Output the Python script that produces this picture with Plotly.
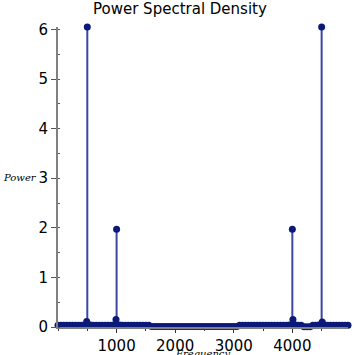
import plotly.graph_objects as go

# Frequency bins (Hz) and power values
freq = [0, 50, 100, 150, 200, 250, 300, 350, 400, 450,
        490, 500, 550, 600, 650, 700, 750, 800, 850, 900,
        950, 990, 1000, 1050, 1100, 1150, 1200, 1250, 1300, 1350,
        1400, 1450, 1500, 1550, 1600, 1650, 1700, 1750, 1800, 1850,
        1900, 1950, 2000, 2050, 2100, 2150, 2200, 2250, 2300, 2350,
        2400, 2450, 2500, 2550, 2600, 2650, 2700, 2750, 2800, 2850,
        2900, 2950, 3000, 3050, 3100, 3150, 3200, 3250, 3300, 3350,
        3400, 3450, 3500, 3550, 3600, 3650, 3700, 3750, 3800, 3850,
        3900, 3950, 4000, 4010, 4050, 4100, 4150, 4200, 4250, 4300,
        4350, 4400, 4450, 4500, 4510, 4550, 4600, 4650, 4700, 4750,
        4800, 4850, 4900, 4950]
power = [0.035, 0.035, 0.035, 0.035, 0.035, 0.035, 0.035, 0.035, 0.035, 0.04,
         0.11, 6.05, 0.04, 0.035, 0.035, 0.035, 0.035, 0.035, 0.035, 0.035,
         0.04, 0.15, 1.97, 0.04, 0.035, 0.035, 0.035, 0.035, 0.035, 0.035,
         0.035, 0.035, 0.035, 0.035, 0.01, 0.01, 0.01, 0.01, 0.01, 0.01,
         0.01, 0.01, 0.01, 0.01, 0.01, 0.01, 0.01, 0.01, 0.01, 0.01,
         0.01, 0.01, 0.01, 0.01, 0.01, 0.01, 0.01, 0.01, 0.01, 0.01,
         0.01, 0.01, 0.01, 0.01, 0.035, 0.035, 0.035, 0.035, 0.035, 0.035,
         0.035, 0.035, 0.035, 0.035, 0.035, 0.035, 0.035, 0.035, 0.035, 0.035,
         0.035, 0.04, 1.97, 0.15, 0.04, 0.035, 0.035, 0.005, 0.005, 0.005,
         0.035, 0.035, 0.04, 6.05, 0.1, 0.04, 0.035, 0.035, 0.035, 0.035,
         0.035, 0.035, 0.035, 0.035]

x_ticks = [1000, 2000, 3000, 4000]
x_tick_labels = ["1000", "2000", "3000", "4000"]
y_ticks = [0, 1, 2, 3, 4, 5, 6]
y_tick_labels = ["0", "1", "2", "3", "4", "5", "6"]

stem_x, stem_y = [], []
for f, p in zip(freq, power):
    stem_x += [f, f, None]
    stem_y += [0, p, None]

fig = go.Figure()
fig.add_trace(go.Scatter(x=stem_x, y=stem_y, mode="lines",
                         line=dict(color="#3a48a2", width=2),
                         hoverinfo="skip", cliponaxis=False))
fig.add_trace(go.Scatter(x=freq, y=power, mode="markers",
                         marker=dict(color="#0b1a78", size=7),
                         cliponaxis=False))

W = H = 355
left, right, top, bottom = 58.2, 7.1, 26.5, 28

fig.update_layout(
    width=W, height=H,
    margin=dict(l=left, r=right, t=top, b=bottom, pad=0, autoexpand=False),
    paper_bgcolor="white", plot_bgcolor="white",
    showlegend=False,
    font=dict(family="DejaVu Sans", color="black"),
    xaxis=dict(range=[0, 4950], tickvals=x_ticks, ticktext=x_tick_labels,
               showgrid=False, zeroline=False, showline=True,
               linecolor="#808080", linewidth=2,
               ticks="outside", ticklen=4, tickcolor="#333333", tickwidth=1,
               tickfont=dict(size=15, family="DejaVu Sans", color="black"),
               minor=dict(ticks="outside", ticklen=2, dtick=500,
                          tickcolor="#333333")),
    yaxis=dict(range=[0, 6.05], tickvals=y_ticks, ticktext=y_tick_labels,
               showgrid=False, zeroline=False, showline=True,
               linecolor="#808080", linewidth=2,
               ticks="outside", ticklen=5, tickcolor="#555555", tickwidth=1,
               tickfont=dict(size=15, family="DejaVu Sans", color="black"),
               minor=dict(ticks="inside", ticklen=2, dtick=0.5,
                          tickcolor="#555555")),
    annotations=[
        dict(text="Power Spectral Density", xref="paper", yref="paper",
             x=(180 - left) / (W - left - right), y=1,
             yshift=18, xanchor="center", yanchor="middle", showarrow=False,
             font=dict(size=15, family="DejaVu Sans", color="black")),
        dict(text="<i>Power</i>", xref="paper", yref="paper",
             x=(1 - left) / (W - left - right), y=(327 - 177) / (327 - 26.5),
             xanchor="left", yanchor="middle", showarrow=False,
             font=dict(size=10, family="DejaVu Serif", color="black")),
        dict(text="<i>Frequency</i>", xref="paper", yref="paper",
             x=(203 - left) / (W - left - right), y=0, yshift=-19,
             xanchor="center", yanchor="top", showarrow=False,
             font=dict(size=10, family="DejaVu Serif", color="black")),
    ],
)

fig.write_html("out.html", config={"displayModeBar": False},
               post_script="document.body.style.margin='0';"
                           "document.body.style.overflow='hidden';")
